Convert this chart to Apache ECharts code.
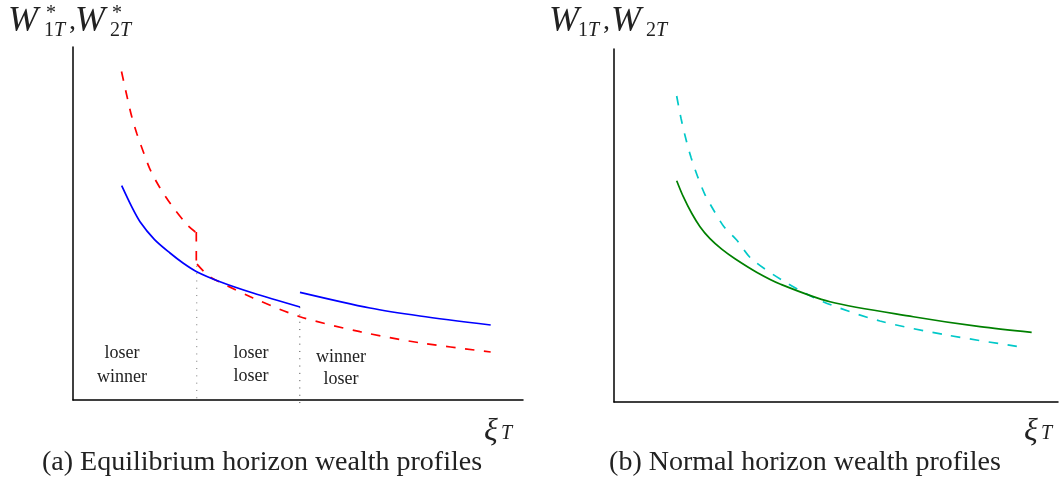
<!DOCTYPE html>
<html>
<head>
<meta charset="utf-8">
<script src="https://cdn.jsdelivr.net/npm/echarts@6/dist/echarts.min.js"></script>
<style>
html,body{margin:0;padding:0;background:#fff;}
#chart{width:1059px;height:499px;}
</style>
</head>
<body>
<div id="chart"></div>
<script>
// ---- Data (abstract units, axes 0..100) ----
// Panel (a): equilibrium horizon wealth profiles
const redUpper = [[10.78,93.06],[11.93,86.4],[12.96,80.74],[14.16,75.55],[15.62,70.34],[17.18,65.16],[19.18,60.42],[21.71,55.52],[25.4,49.58],[27.2,47.6]];
const redJump = [[27.4,47.6],[27.4,38.3]];
const redLower = [[27.56,38.5],[30.2,35.1],[34.16,32.44],[40.0,28.9],[50.44,23.6],[63.78,19.35],[77.1,16.2],[92.82,13.6]];
const blueLeft = [[10.82,60.71],[13.04,54.76],[14.89,50.51],[18.07,45.52],[21.56,41.64],[24.44,38.81],[27.49,36.35],[32.67,33.51],[40.0,30.31],[50.44,26.35]];
const blueRight = [[50.44,30.5],[66.0,26.06],[77.1,23.8],[92.82,21.25]];
const boundary1 = [[27.5,38.0],[27.5,0]];
const boundary2 = [[50.4,26.3],[50.4,-1.4]];
const regionLabels = [["loser","winner"],["loser","loser"],["winner","loser"]];
// Panel (b): normal horizon wealth profiles
const cyanCurve = [[14.12,86.69],[15.09,80.37],[16.15,74.7],[17.34,69.32],[18.76,64.11],[20.43,58.92],[22.52,54.19],[24.77,49.66],[27.63,45.89],[31.01,40.51],[38.9,33.71],[47.07,28.41],[59.91,22.95],[74.93,18.98],[92.12,15.5]];
const greenCurve = [[14.12,62.69],[15.61,58.16],[17.5,53.46],[19.37,49.66],[21.62,46.26],[24.26,43.29],[27.25,40.57],[32.21,36.69],[37.39,33.43],[48.65,28.41],[67.41,24.16],[82.43,21.33],[94.07,19.75]];
const captions = ["(a) Equilibrium horizon wealth profiles","(b) Normal horizon wealth profiles"];

const SERIF = '"Liberation Serif", "DejaVu Serif", serif';
const chart = echarts.init(document.getElementById('chart'), null, {renderer:'canvas'});

function axisX(gi){return {type:'value',gridIndex:gi,min:0,max:100,axisLine:{show:true,onZero:false,lineStyle:{color:'#000',width:1.5}},axisTick:{show:false},axisLabel:{show:false},splitLine:{show:false}};}
function axisY(gi){return {type:'value',gridIndex:gi,min:0,max:100,axisLine:{show:true,onZero:false,lineStyle:{color:'#000',width:1.5}},axisTick:{show:false},axisLabel:{show:false},splitLine:{show:false}};}

function curve(data, gi, color, dashed, smooth){
  return {type:'line',xAxisIndex:gi,yAxisIndex:gi,data:data,showSymbol:false,symbol:'none',
    smooth:smooth?0.3:false,clip:false,silent:true,animation:false,
    lineStyle:{color:color,width:1.7,type:dashed?[9.5,9.5]:'solid'}};
}
function dotted(data, color){
  return {type:'line',xAxisIndex:0,yAxisIndex:0,data:data,showSymbol:false,symbol:'none',clip:false,silent:true,animation:false,
    lineStyle:{color:color,width:1,type:[1,6.3]}};
}

const labelPos = [[122,353,377],[251,353,376],[341,357,379]];
const graphics = [];
regionLabels.forEach((pair,i)=>{
  pair.forEach((t,j)=>{
    graphics.push({type:'text',style:{x:labelPos[i][0],y:labelPos[i][1+j],text:t,font:'18px '+SERIF,fill:'#222',align:'center',verticalAlign:'middle'}});
  });
});
function txt(x,y,t,size,italic){
  graphics.push({type:'text',style:{x:x,y:y,text:t,font:(italic?'italic ':'')+size+'px '+SERIF,fill:'#222',align:'left',verticalAlign:'top'}});
}
// y-axis titles
txt(8,4,'W',36,true); txt(46,4,'*',20,false); txt(44,21,'1',20,false); txt(54,21,'T',20,true); txt(69,8,',',28,false);
txt(75,4,'W',36,true); txt(112,4,'*',20,false); txt(110,21,'2',20,false); txt(120,21,'T',20,true);
txt(549,4,'W',36,true); txt(578,21,'1',20,false); txt(588,21,'T',20,true); txt(603,8,',',28,false);
txt(611,4,'W',36,true); txt(646,21,'2',20,false); txt(656,21,'T',20,true);
// x-axis titles
txt(484,416,'ξ',32,true); txt(501,424,'T',20,true);
txt(1024,416,'ξ',32,true); txt(1041,424,'T',20,true);
// captions
graphics.push({type:'text',style:{x:262,y:463,text:captions[0],font:'28px '+SERIF,fill:'#222',align:'center',verticalAlign:'middle'}});
graphics.push({type:'text',style:{x:805,y:463,text:captions[1],font:'28px '+SERIF,fill:'#222',align:'center',verticalAlign:'middle'}});

chart.setOption({
  animation:false,
  backgroundColor:'#fff',
  grid:[{left:73,top:47,width:450,height:353},{left:614,top:49,width:444,height:353}],
  xAxis:[axisX(0),axisX(1)],
  yAxis:[axisY(0),axisY(1)],
  series:[
    dotted(boundary1,'#777'),
    dotted(boundary2,'#444'),
    curve(redUpper,0,'#ff0000',true,true),
    curve(redJump,0,'#ff0000',true,false),
    curve(redLower,0,'#ff0000',true,true),
    curve(blueLeft,0,'#0000ff',false,true),
    curve(blueRight,0,'#0000ff',false,true),
    curve(cyanCurve,1,'#00c8c8',true,true),
    curve(greenCurve,1,'#008000',false,true)
  ],
  graphic:graphics
});
</script>
</body>
</html>
